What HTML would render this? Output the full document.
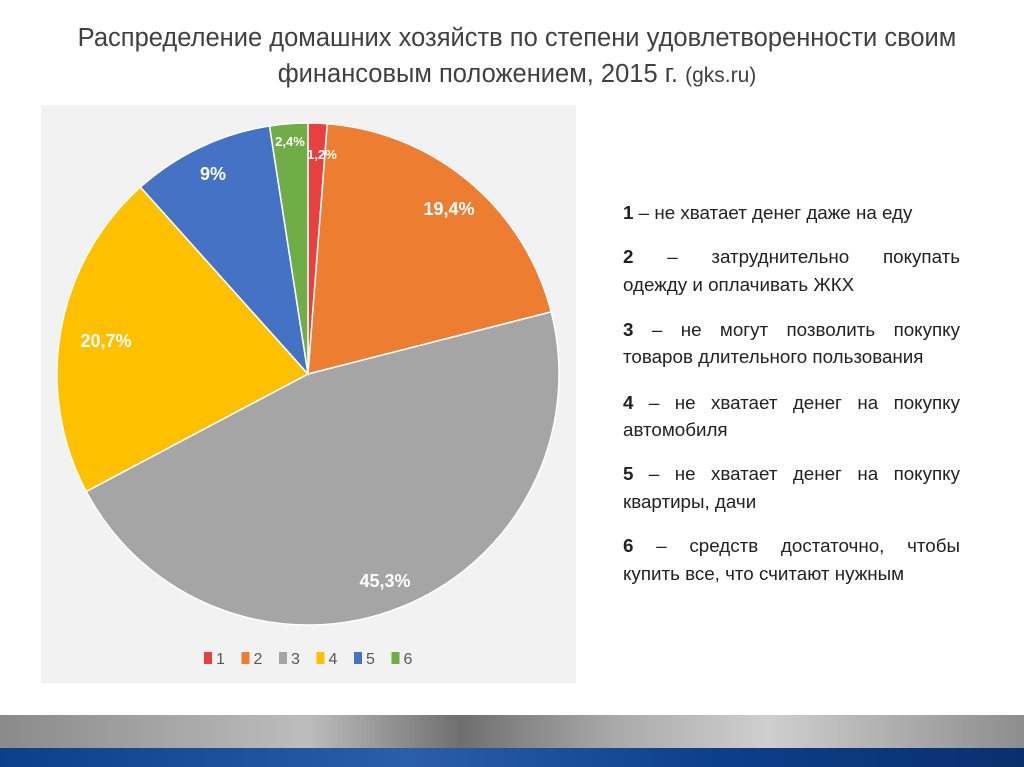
<!DOCTYPE html>
<html><head><meta charset="utf-8"><style>
body{margin:0;width:1024px;height:767px;overflow:hidden;background:#fff;font-family:"Liberation Sans","DejaVu Sans",sans-serif;position:relative}
.title{position:absolute;left:0;width:1034px;top:20px;text-align:center;font-size:25.5px;line-height:36px;color:#404040}
.title small{font-size:21px}
.box{position:absolute;left:41px;top:105px;width:535px;height:578px;background:#f2f2f2}
svg{position:absolute;left:0;top:0}
.l{position:absolute;left:623px;width:337px;font-size:18.8px;color:#222;line-height:20px;white-space:nowrap}
.j{text-align:justify;text-align-last:justify}
</style></head><body>
<div class="title">Распределение домашних хозяйств по степени удовлетворенности своим<br>финансовым положением, 2015 г. <small>(gks.ru)</small></div>
<div class="box"></div>
<svg width="1024" height="767" id="s"></svg>
<div class="l" style="top:203px"><b>1</b> – не хватает денег даже на еду</div>
<div class="l j" style="top:247px"><b>2</b> – затруднительно покупать</div>
<div class="l" style="top:275px">одежду и оплачивать ЖКХ</div>
<div class="l j" style="top:320px"><b>3</b> – не могут позволить покупку</div>
<div class="l" style="top:347px">товаров длительного пользования</div>
<div class="l j" style="top:393px"><b>4</b> – не хватает денег на покупку</div>
<div class="l" style="top:420px">автомобиля</div>
<div class="l j" style="top:464px"><b>5</b> – не хватает денег на покупку</div>
<div class="l" style="top:492px">квартиры, дачи</div>
<div class="l j" style="top:536px"><b>6</b> – средств достаточно, чтобы</div>
<div class="l" style="top:564px">купить все, что считают нужным</div>
<div style="position:absolute;left:0;top:715px;width:1024px;height:33px;background:linear-gradient(90deg,#8a8a8a,#bdbdbd 30%,#6f6f6f 45%,#a9a9a9 60%,#cfcfcf 75%,#8d8d8d)"></div>
<div style="position:absolute;left:0;top:748px;width:1024px;height:19px;background:linear-gradient(90deg,#0a3f8c,#2b5ea8 40%,#0c3f8b 70%,#0b2f6e)"></div>
<script>
var v=[1.2,19.4,45.3,20.7,9,2.4],c=["#e84040","#ed7d31","#a5a5a5","#ffc000","#4472c4","#70ad47"];
var cx=308,cy=374,r=251,tot=98,a=0,h="";
for(var i=0;i<6;i++){var a1=a+v[i]/tot*2*Math.PI;
var x0=cx+r*Math.sin(a),y0=cy-r*Math.cos(a),x1=cx+r*Math.sin(a1),y1=cy-r*Math.cos(a1);
h+='<path d="M'+cx+' '+cy+' L'+x0+' '+y0+' A'+r+' '+r+' 0 '+((a1-a)>Math.PI?1:0)+' 1 '+x1+' '+y1+' Z" fill="'+c[i]+'" stroke="#fff" stroke-width="1.5"/>';a=a1;}
var t=[[322,159,"1,2%",13],[449,215,"19,4%",18],[385,587,"45,3%",18],[106,347,"20,7%",18],[213,180,"9%",18],[290,146,"2,4%",13]];
t.forEach(function(q){h+='<text x="'+q[0]+'" y="'+q[1]+'" fill="#fff" font-weight="bold" font-size="'+q[3]+'" text-anchor="middle" font-family="Liberation Sans,sans-serif">'+q[2]+'</text>'});
var lx=204;for(i=0;i<6;i++){h+='<rect x="'+(lx+i*37.5)+'" y="652" width="8" height="12" fill="'+c[i]+'"/><text x="'+(lx+i*37.5+12)+'" y="664" font-size="16" fill="#595959" font-family="Liberation Sans,sans-serif">'+(i+1)+'</text>';}
document.getElementById("s").innerHTML=h;
</script>
</body></html>
